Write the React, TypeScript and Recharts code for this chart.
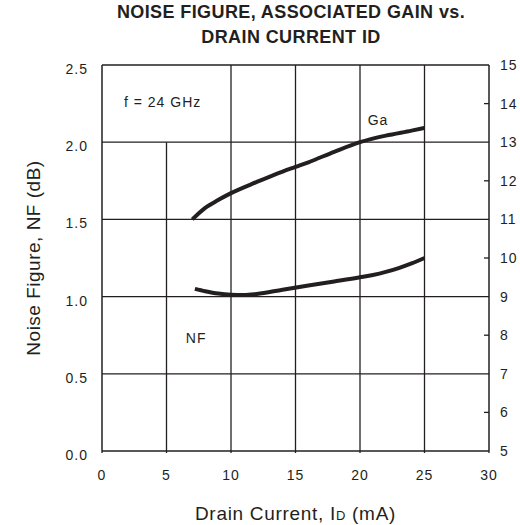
import React from 'react';
import { LineChart, Line, XAxis, YAxis, ReferenceLine, ReferenceDot } from 'recharts';

// drain current ticks (mA)
const currentTicks = [0, 5, 10, 15, 20, 25, 30];
const nfTicks = [0, 0.5, 1.0, 1.5, 2.0, 2.5];
const gaTicks = [5, 6, 7, 8, 9, 10, 11, 12, 13, 14, 15];
const gridCurrents = [10, 15, 20, 25];
const gridNf = [0.5, 1.0, 1.5, 2.0];

// NF curve (left axis, dB)
const nfCurrent = [7.2, 8, 9, 10, 11, 12, 14, 16, 18, 20, 21, 22, 23, 24, 25];
const nfValues = [1.05, 1.035, 1.02, 1.012, 1.01, 1.017, 1.045, 1.072, 1.098, 1.125, 1.14, 1.16, 1.185, 1.215, 1.25];

// Ga curve (right axis, dB)
const gaCurrent = [7, 8, 9, 10, 12, 14, 15, 16, 18, 20, 22, 24, 25];
const gaValues = [11.0, 11.3, 11.5, 11.68, 11.97, 12.24, 12.36, 12.48, 12.75, 13.0, 13.17, 13.3, 13.37];

const nfData = nfCurrent.map((x, i) => ({ x, nf: nfValues[i] }));
const gaData = gaCurrent.map((x, i) => ({ x, ga: gaValues[i] }));

const INK = '#231f20';
const FONT = '"Liberation Sans", Arial, Helvetica, sans-serif';

const LeftTick = (props: any) => {
  const { x, y, payload } = props;
  return (
    <text x={x - 14} y={y + 4} dy="0.355em" textAnchor="end" fill={INK} fontSize={14} letterSpacing={1} fontFamily={FONT}>
      {Number(payload.value).toFixed(1)}
    </text>
  );
};

const RightTick = (props: any) => {
  const { x, y, payload } = props;
  const v = Number(payload.value);
  return (
    <g>
      {v % 2 === 0 && v !== 5 && v !== 15 ? <line x1={x - 5} x2={x} y1={y} y2={y} stroke={INK} strokeWidth={1.3} /> : null}
      <text x={x + 11} y={y} dy="0.355em" textAnchor="start" fill={INK} fontSize={14} letterSpacing={1} fontFamily={FONT}>
        {v}
      </text>
    </g>
  );
};

const BottomTick = (props: any) => {
  const { x, y, payload } = props;
  return (
    <g>
      <line x1={x} x2={x} y1={y} y2={y + 2} stroke={INK} strokeWidth={1.3} />
      <text x={x} y={y + 24} dy="0.355em" textAnchor="middle" fill={INK} fontSize={14} letterSpacing={1} fontFamily={FONT}>
        {payload.value}
      </text>
    </g>
  );
};

const note = (text: string) => (props: any) => {
  const { viewBox } = props;
  const cx = viewBox.x + (viewBox.width || 0) / 2;
  const cy = viewBox.y + (viewBox.height || 0) / 2;
  return (
    <text x={cx} y={cy} dy="0.355em" textAnchor="middle" fill={INK} fontSize={14} letterSpacing={1} fontFamily={FONT}>
      {text}
    </text>
  );
};

const YTitle = (props: any) => {
  const { viewBox } = props;
  const x = viewBox.x - 9;
  const y = viewBox.y + viewBox.height / 2;
  return (
    <text x={x} y={y} dy="0.355em" transform={`rotate(-90 ${x} ${y})`} textAnchor="middle" fill={INK} fontSize={19} letterSpacing={0.5} fontFamily={FONT}>
      Noise Figure, NF (dB)
    </text>
  );
};

const XTitle = (props: any) => {
  const { viewBox } = props;
  const x = viewBox.x + viewBox.width / 2;
  return (
    <text x={x} y={520} textAnchor="middle" fill={INK} fontSize={19} letterSpacing={0.7} fontFamily={FONT}>
      Drain Current, I<tspan fontSize={13}>D</tspan> (mA)
    </text>
  );
};

export default function App() {
  return (
    <div style={{ position: 'absolute', left: 0, top: 0, width: 520, height: 525, background: '#fff' }}>
      <div
        style={{
          position: 'absolute',
          left: 0,
          width: 582,
          top: 0,
          textAlign: 'center',
          fontFamily: FONT,
          fontWeight: 'bold',
          fontSize: 18,
          lineHeight: '25px',
          color: INK,
          letterSpacing: 0.4,
        }}
      >
        NOISE FIGURE, ASSOCIATED GAIN vs.
        <br />
        DRAIN CURRENT ID
      </div>
      <LineChart width={520} height={525} margin={{ top: 65, right: 0, bottom: 44, left: 42 }}>
        <XAxis
          xAxisId="id"
          dataKey="x"
          type="number"
          domain={[0, 30]}
          ticks={currentTicks}
          tick={<BottomTick />}
          tickSize={0}
          tickMargin={0}
          tickLine={false}
          height={30}
          axisLine={{ stroke: INK, strokeWidth: 1.5 }}
          allowDataOverflow
          label={<XTitle />}
        />
        <YAxis
          yAxisId="nf"
          orientation="left"
          domain={[0, 2.5]}
          ticks={nfTicks}
          tick={<LeftTick />}
          tickSize={0}
          tickMargin={0}
          tickLine={false}
          width={60}
          axisLine={{ stroke: INK, strokeWidth: 1.5 }}
          allowDataOverflow
          label={<YTitle />}
        />
        <YAxis
          yAxisId="ga"
          orientation="right"
          domain={[5, 15]}
          ticks={gaTicks}
          tick={<RightTick />}
          tickSize={0}
          tickMargin={0}
          tickLine={false}
          width={31}
          axisLine={{ stroke: INK, strokeWidth: 1.5 }}
          allowDataOverflow
        />
        <ReferenceLine xAxisId="id" yAxisId="nf" y={2.5} stroke={INK} strokeWidth={1.5} />
        {gridNf.map((v) => (
          <ReferenceLine key={'h' + v} xAxisId="id" yAxisId="nf" y={v} stroke={INK} strokeWidth={1.3} />
        ))}
        {gridCurrents.map((v) => (
          <ReferenceLine key={'v' + v} xAxisId="id" yAxisId="nf" x={v} stroke={INK} strokeWidth={1.3} />
        ))}
        <ReferenceLine
          xAxisId="id"
          yAxisId="nf"
          segment={[{ x: 5, y: 0 }, { x: 5, y: 2.0 }]}
          stroke={INK}
          strokeWidth={1.3}
        />
        <ReferenceDot xAxisId="id" yAxisId="nf" x={4.7} y={2.26} r={0} label={note('f = 24 GHz')} />
        <ReferenceDot xAxisId="id" yAxisId="nf" x={7.3} y={0.73} r={0} label={note('NF')} />
        <ReferenceDot xAxisId="id" yAxisId="ga" x={21.4} y={13.58} r={0} label={note('Ga')} />
        <Line
          xAxisId="id"
          yAxisId="nf"
          data={nfData}
          dataKey="nf"
          type="monotone"
          stroke={INK}
          strokeWidth={4}
          dot={false}
          isAnimationActive={false}
        />
        <Line
          xAxisId="id"
          yAxisId="ga"
          data={gaData}
          dataKey="ga"
          type="monotone"
          stroke={INK}
          strokeWidth={4}
          dot={false}
          isAnimationActive={false}
        />
      </LineChart>
    </div>
  );
}
